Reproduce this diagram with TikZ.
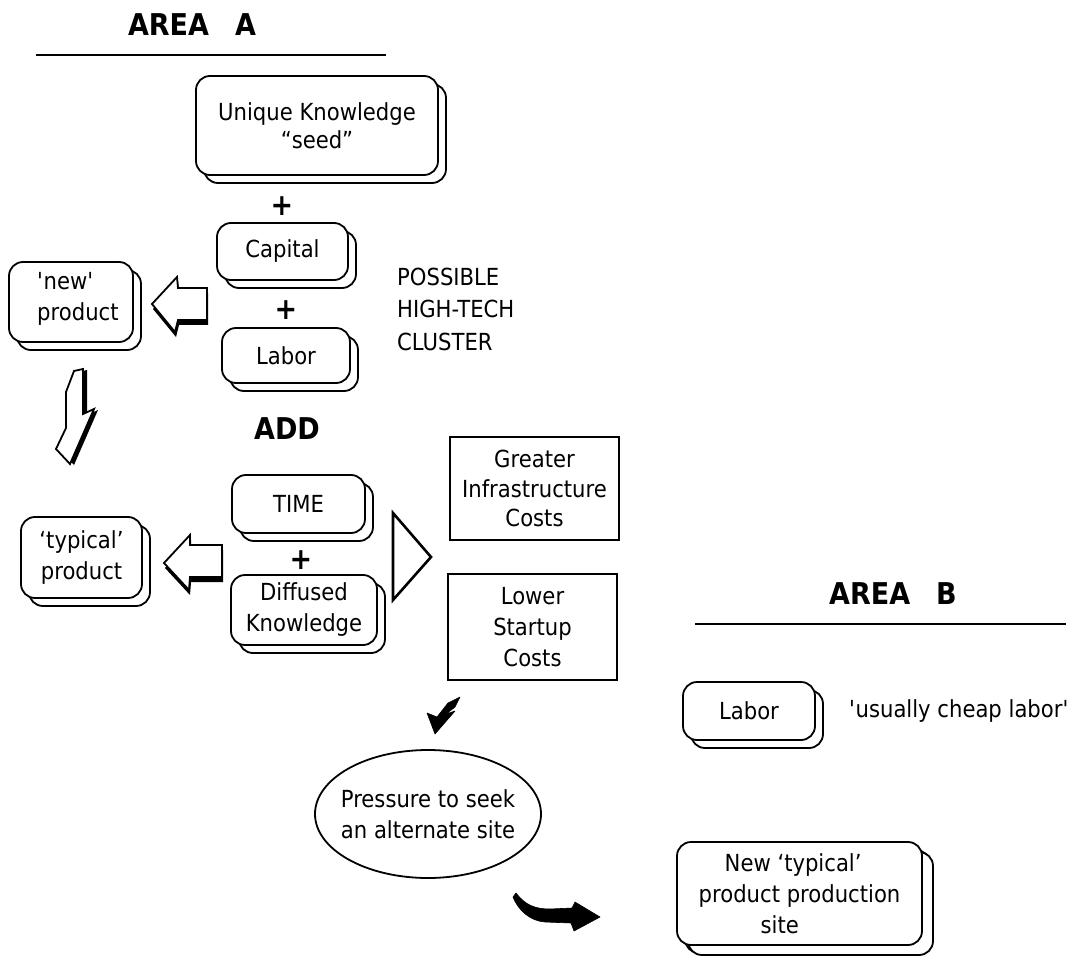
\documentclass[tikz,border=0pt]{standalone}
\usepackage{fontspec}
\setmainfont{DejaVu Sans}[FakeStretch=0.9]
\usetikzlibrary{shapes.geometric,shadows}
\begin{document}
\begin{tikzpicture}[x=1pt,y=-1pt,
  every node/.style={font=\fontsize{23.5}{31}\selectfont},
  mbox/.style={draw, line width=1.8pt, fill=white, rounded corners=14pt, inner sep=0pt, align=center,
    copy shadow={shadow xshift=8pt, shadow yshift=-8pt, draw=black, fill=white, line width=1.8pt}},
  rbox/.style={draw, line width=1.9pt, inner sep=0pt, align=center, font=\fontsize{23.5}{29.5}\selectfont},
  ttl/.style={font=\fontsize{30}{34}\selectfont\bfseries, inner sep=0pt},
  plussign/.style={font=\fontsize{30}{30}\selectfont\bfseries, inner sep=0pt},
  hollowarrow/.style={draw, line width=1.8pt, fill=white, line join=miter},
  shadowfill/.style={fill=black},
  blackarrow/.style={fill=black, draw=black, line width=0.6pt, line join=round},
  rule/.style={line width=1.8pt},
]
\useasboundingbox (0,0) rectangle (1086,957);

% ---------- AREA A ----------
\node[ttl] (areaA) at (192,25) {AREA\hspace{26pt}A};
\coordinate (ulA1) at (36,55);
\coordinate (ulA2) at (386,55);
\draw[rule] (ulA1) -- (ulA2);

\node[mbox, minimum width=242pt, minimum height=99pt, font=\fontsize{23.5}{28}\selectfont] (uk) at (317,125.5) {Unique Knowledge\\“seed”};
\node[plussign] (p1) at (282,206) {+};
\node[mbox, minimum width=131pt, minimum height=57pt] (cap) at (282.5,251.5) {Capital};
\node[plussign] (p2) at (286,310) {+};
\node[mbox, minimum width=128pt, minimum height=55pt] (labA) at (286,355.5) {Labor};
\node[anchor=west, align=left, inner sep=0pt, font=\fontsize{23.5}{32.5}\selectfont] (cluster) at (397,309) {POSSIBLE\\HIGH-TECH\\CLUSTER};

\node[mbox, minimum width=124pt, minimum height=80pt] (newp) at (71,302) {};
\node[anchor=west, align=left, inner sep=0pt] (newpt) at (37,299) {\textquotesingle new\textquotesingle\\product};

% arrow to 'new' product
\begin{scope}[shift={(1,5)}]
  \fill[shadowfill] (152,304) -- (177,277) -- (178,288) -- (207,288) -- (207,320) -- (178,320) -- (175,332) -- cycle;
\end{scope}
\draw[hollowarrow] (152,304) -- (177,277) -- (178,288) -- (207,288) -- (207,320) -- (178,320) -- (175,332) -- cycle;

% down arrow
\begin{scope}[shift={(4,1)}]
  \fill[shadowfill] (74,371) -- (83,369) -- (83,414) -- (94,409) -- (70,464) -- (56,449) -- (66,428) -- (66,392) -- cycle;
\end{scope}
\draw[hollowarrow] (74,371) -- (83,369) -- (83,414) -- (94,409) -- (70,464) -- (56,449) -- (66,428) -- (66,392) -- cycle;

\node[ttl] (add) at (287,429) {ADD};

\node[mbox, minimum width=133pt, minimum height=58pt] (time) at (298.5,504) {TIME};
\node[plussign] (p3) at (301,560) {+};
\node[mbox, minimum width=146pt, minimum height=70pt] (diff) at (304,610) {Diffused\\Knowledge};
\node[mbox, minimum width=121pt, minimum height=81pt] (typ) at (81.5,557.5) {`typical'\\product};

% arrow to 'typical' product
\begin{scope}[shift={(1,5)}]
  \fill[shadowfill] (164,563) -- (190,535) -- (190,545) -- (222,545) -- (222,577) -- (190,577) -- (189,590) -- cycle;
\end{scope}
\draw[hollowarrow] (164,563) -- (190,535) -- (190,545) -- (222,545) -- (222,577) -- (190,577) -- (189,590) -- cycle;

% triangle
\draw[line width=2.6pt, line join=miter] (393,513) -- (431,557) -- (393,600) -- cycle;

\node[rbox, minimum width=169pt, minimum height=103pt] (gic) at (534.5,488.5) {Greater\\Infrastructure\\Costs};
\node[rbox, minimum width=169pt, minimum height=106pt, font=\fontsize{23.5}{31}\selectfont] (lsc) at (532.5,627) {Lower\\Startup\\Costs};

% check-like arrow
\fill[blackarrow] (435,734) -- (427,713) -- (437,717) -- (448,703) -- (460,697) -- (455,707) -- (446,714) -- (455,711) -- cycle;

\node[ellipse, draw, line width=1.8pt, minimum width=226pt, minimum height=128pt, inner sep=0pt,
  label={[align=center, inner sep=0pt]center:{Pressure to seek\\an alternate site}}] (press) at (428,814) {};

% curved arrow
\fill[blackarrow] (516,893) .. controls (525,905) and (535,909) .. (550,909) -- (572,908) -- (575,902) -- (600,917) -- (574,931) -- (571,923) -- (545,922) .. controls (530,921) and (518,910) .. (513,897) -- cycle;

% ---------- AREA B ----------
\node[ttl] (areaB) at (893,594) {AREA\hspace{26pt}B};
\coordinate (ulB1) at (695,624);
\coordinate (ulB2) at (1066,624);
\draw[rule] (ulB1) -- (ulB2);

\node[mbox, minimum width=132pt, minimum height=58pt] (labB) at (749,711) {Labor};
\node[anchor=west, inner sep=0pt] (cheap) at (849,711) {\textquotesingle usually cheap labor\textquotesingle};

\node[mbox, minimum width=245pt, minimum height=103pt, align=left,
  copy shadow={shadow xshift=11pt, shadow yshift=-10pt, draw=black, fill=white, line width=1.8pt}] (site) at (799.5,893.5)
  {\hspace*{26pt}New `typical'\\product production\\\hspace*{62pt}site};
\end{tikzpicture}
\end{document}
